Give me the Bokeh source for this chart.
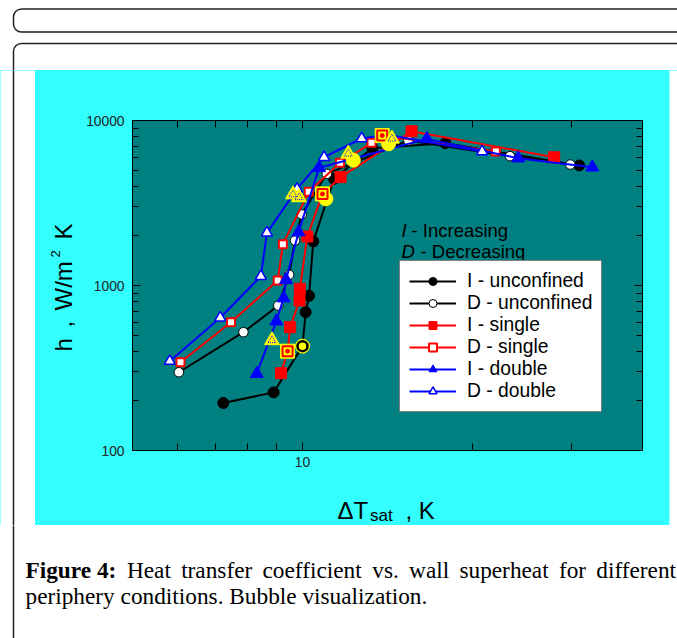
import math
from bokeh.plotting import figure
from bokeh.layouts import row, column
from bokeh.models import (Range1d, LogAxis, FixedTicker, BoxAnnotation, Label,
                          Legend, LegendItem, PrintfTickFormatter, CustomJSTickFormatter)
from bokeh.embed import file_html
from bokeh.resources import INLINE

# ---------------- data ----------------
i_unconf_x = [7.24, 8.89, 10.0, 10.13, 10.27, 10.45, 11.37, 13.3, 17.9, 30.9]
i_unconf_y = [194, 225, 429, 689, 866, 1850, 4430, 6800, 7290, 5340]

d_unconf_x = [6.04, 7.86, 9.06, 9.47, 9.70, 9.97, 11.04, 15.4, 23.3, 29.8]
d_unconf_y = [298, 521, 756, 1161, 1873, 2694, 4750, 7560, 6080, 5410]

i_single_x = [9.16, 9.41, 9.51, 9.88, 9.89, 10.2, 10.85, 11.68, 15.6, 27.9]
i_single_y = [294, 400, 559, 811, 955, 1982, 3590, 4540, 8600, 5990]

d_single_x = [6.08, 7.47, 9.04, 9.23, 10.26, 11.65, 13.25, 13.84, 22.0]
d_single_y = [343, 599, 1072, 1780, 3700, 5540, 7325, 8110, 6490]

i_double_x = [8.30, 8.99, 9.26, 9.35, 9.84, 10.7, 16.6, 24.1, 32.6]
i_double_y = [292, 608, 838, 1082, 2105, 5166, 7740, 5910, 5210]

d_double_x = [5.82, 7.15, 8.44, 8.65, 9.78, 10.92, 12.73, 14.1, 20.8]
d_double_y = [348, 637, 1138, 2086, 3850, 5990, 7780, 8190, 6490]

# bubble-visualisation highlights
bub_circle_x = [10.0, 11.0, 12.3, 14.2]
bub_circle_y = [429, 3350, 5750, 7220]
bub_square_x = [9.41, 10.85, 13.84]
bub_square_y = [400, 3590, 8110]
bub_tri_x = [8.83, 9.62, 9.86, 12.05, 14.4]
bub_tri_y = [465, 3560, 3420, 6280, 7750]

x_major = [10]
x_minor = [6, 7, 8, 9, 20, 30]
y_major = [100, 1000, 10000]
y_minor = [200, 300, 400, 500, 600, 700, 800, 900,
           2000, 3000, 4000, 5000, 6000, 7000, 8000, 9000]

legend_labels = ["I - unconfined", "D - unconfined", "I - single",
                 "D - single", "I - double", "D - double"]

x_title = ["\u0394T", "sat", ", K"]
y_title = ["h", ",", "W/m", "2", "K"]
note_lines = [("I", "- Increasing"), ("D", "- Decreasing")]
caption_bold = "Figure 4:"
caption_line1 = ["Heat", "transfer", "coefficient", "vs.", "wall",
                 "superheat", "for", "different"]
caption_line2 = "periphery conditions. Bubble visualization."

# ---------------- layout constants (page pixels) ----------------
W, H = 677, 638
CY0, CY1 = 70, 525          # cyan panel top/bottom
CX0, CX1 = 35, 669          # cyan panel left/right
YT_W = 45                   # width of y-title strip
PX0 = CX0 + YT_W            # left of plot figure
XT_H = 45                   # height of x-title strip
FL, FR, FT, FB = 132, 642, 120, 450   # frame edges
CYAN = "#33ffff"
TEAL = "#008080"
SANS = "Liberation Sans"
SERIF = "Liberation Serif"
EDGE = "#222222"


def blank(w, h, bg="white"):
    f = figure(width=w, height=h, x_range=Range1d(0, w), y_range=Range1d(0, h),
               x_axis_location=None, y_axis_location=None,
               output_backend="svg", toolbar_location=None, frame_align=False)
    f.min_border_left = f.min_border_right = 0
    f.min_border_top = f.min_border_bottom = 0
    f.outline_line_color = None
    f.background_fill_color = bg
    f.border_fill_color = bg
    f.xgrid.visible = False
    f.ygrid.visible = False
    return f


def lab(f, h, x, y, text, size, font=SANS, style="normal", angle=0.0, color="black"):
    # x, y are local pixel coordinates with y measured from the top
    f.add_layout(Label(x=x, y=h - y, text=text, text_font=font,
                       text_font_size=size, text_font_style=style,
                       text_color=color, text_align="left",
                       text_baseline="alphabetic", angle=angle))


# ---- top strip: two rounded page boxes ----
top_h = CY0
top_fig = blank(W, top_h)
top_fig.add_layout(BoxAnnotation(left=13, right=760, top=top_h - 8.5, bottom=top_h - 31.5,
                                 fill_color="white", fill_alpha=1, line_color=EDGE,
                                 line_width=1.5, line_alpha=1, border_radius=8))
top_fig.add_layout(BoxAnnotation(left=13, right=760, top=top_h - 43, bottom=-200,
                                 fill_color="white", fill_alpha=1, line_color=EDGE,
                                 line_width=1.5, line_alpha=1, border_radius=8))

mid_h = CY1 - CY0

# ---- left white strip with the box edge ----
left_fig = blank(CX0, mid_h)
left_fig.segment(x0=[13], y0=[-10], x1=[13], y1=[mid_h + 10],
                 line_color=EDGE, line_width=1.5)

# ---- right white strip ----
right_fig = blank(W - CX1, mid_h)

# ---- y-title strip ----
yt_fig = blank(YT_W, mid_h, CYAN)
A = math.pi / 2
bx = 63 - CX0
lab(yt_fig, mid_h, bx, 351 - CY0, y_title[0], "24px", angle=A)
lab(yt_fig, mid_h, bx, 327 - CY0, y_title[1], "24px", angle=A)
lab(yt_fig, mid_h, bx, 310 - CY0, y_title[2], "24px", angle=A)
lab(yt_fig, mid_h, 55 - CX0, 257 - CY0, y_title[3], "13px", angle=A)
lab(yt_fig, mid_h, bx, 239 - CY0, y_title[4], "24px", angle=A)

# ---- main plot ----
PW = CX1 - PX0
PH = mid_h - XT_H
p = figure(width=PW, height=PH, x_axis_type="log", y_axis_type="log",
           x_range=Range1d(5, 40), y_range=Range1d(100, 10000),
           output_backend="svg", toolbar_location=None, frame_align=False,
           min_border_left=FL - PX0, min_border_right=CX1 - FR,
           min_border_top=FT - CY0, min_border_bottom=(CY0 + PH) - FB)
p.border_fill_color = CYAN
p.background_fill_color = TEAL
p.outline_line_color = "black"
p.outline_line_width = 1
p.xgrid.visible = False
p.ygrid.visible = False

bot_ax = p.below[0]
left_ax = p.left[0]
top_ax = LogAxis()
right_ax = LogAxis()
p.add_layout(top_ax, "above")
p.add_layout(right_ax, "right")

for ax in [bot_ax, top_ax]:
    ax.ticker = FixedTicker(ticks=x_major, minor_ticks=x_minor)
for ax in [left_ax, right_ax]:
    ax.ticker = FixedTicker(ticks=y_major, minor_ticks=y_minor)

for ax in [bot_ax, left_ax, top_ax, right_ax]:
    ax.axis_line_color = "black"
    ax.major_tick_line_color = "black"
    ax.minor_tick_line_color = "black"
    ax.major_tick_in = 8
    ax.major_tick_out = 0
    ax.minor_tick_in = 6
    ax.minor_tick_out = 0
    ax.major_label_text_font = SANS
    ax.major_label_text_font_size = "13.8px"
    ax.major_label_text_color = "#222222"

bot_ax.formatter = PrintfTickFormatter(format="%d")
left_ax.formatter = PrintfTickFormatter(format="%d")
bot_ax.minor_tick_in = 7
top_ax.minor_tick_in = 7
bot_ax.major_label_standoff = 6
left_ax.major_label_standoff = 8
for ax in [top_ax, right_ax]:
    ax.formatter = CustomJSTickFormatter(code="return ''")
    ax.major_label_text_font_size = "1px"
    ax.major_label_standoff = 0

series = [
    (i_unconf_x, i_unconf_y, "black", "circle", 11, "black", 1),
    (d_unconf_x, d_unconf_y, "black", "circle", 9.5, "white", 1),
    (i_single_x, i_single_y, "red", "square", 11, "red", 1),
    (d_single_x, d_single_y, "red", "square", 8, "white", 2),
    (i_double_x, i_double_y, "blue", "triangle", 13, "blue", 1),
    (d_double_x, d_double_y, "blue", "triangle", 11, "white", 1.5),
]
items = []
for (xs, ys, col, mk, sz, fill, lw), lb in zip(series, legend_labels):
    ln = p.line(xs, ys, line_color=col, line_width=2)
    sc = p.scatter(xs, ys, marker=mk, size=sz, fill_color=fill,
                   line_color=col, line_width=lw)
    items.append(LegendItem(label=lb, renderers=[ln, sc]))

# bubble highlights
p.scatter(bub_circle_x, bub_circle_y, marker="circle", size=14,
          fill_color="yellow", line_color="yellow")
p.scatter(bub_circle_x[:1], bub_circle_y[:1], marker="circle", size=10,
          fill_color="yellow", line_color="black", line_width=2.5)
p.scatter(bub_square_x, bub_square_y, marker="square", size=14,
          fill_color="yellow", line_color="yellow")
p.scatter(bub_square_x, bub_square_y, marker="square", size=10,
          fill_color="yellow", line_color="red", line_width=2)
p.scatter(bub_square_x, bub_square_y, marker="circle", size=4,
          fill_color="red", line_color="red")
p.scatter(bub_tri_x, bub_tri_y, marker="triangle", size=15,
          fill_color="yellow", line_color="yellow")
p.scatter(bub_tri_x, bub_tri_y, marker="triangle", size=8,
          fill_color=None, line_color="blue", line_width=1, line_dash="1 1")

legend = Legend(items=items, location=(399 - FL, FB - 412), margin=0,
                padding=9, spacing=0, glyph_width=47, glyph_height=20,
                label_height=20, label_standoff=11,
                label_text_font=SANS, label_text_font_size="19.3px",
                label_text_color="black",
                border_line_color="black", border_line_width=1,
                background_fill_color="white", background_fill_alpha=1)
p.add_layout(legend)


def plab(x, y, text, size, style="normal"):
    p.add_layout(Label(x=x - PX0, y=y - CY0, x_units="canvas", y_units="canvas",
                       text=text, text_font=SANS, text_font_size=size,
                       text_font_style=style, text_color="black",
                       text_align="left", text_baseline="alphabetic"))


plab(401, 230, note_lines[0][0], "18.5px", style="italic")
plab(411, 230, note_lines[0][1], "18.5px")
plab(401, 251, note_lines[1][0], "18.5px", style="italic")
plab(420, 251, note_lines[1][1], "18.5px")

# ---- x-title strip ----
xt_fig = blank(PW, XT_H, CYAN)
XY0 = CY0 + PH
lab(xt_fig, XT_H, 337 - PX0, 510 - XY0, x_title[0], "24px")
lab(xt_fig, XT_H, 369.5 - PX0, 514.5 - XY0, x_title[1], "17px")
lab(xt_fig, XT_H, 405 - PX0, 510 - XY0, x_title[2], "24px")

# ---- bottom strip: caption ----
bot_h = H - CY1
bot_fig = blank(W, bot_h)
bot_fig.segment(x0=[13], y0=[-10], x1=[13], y1=[bot_h + 10],
                line_color=EDGE, line_width=1.5)

REG = {" ": 250, "H": 722, "e": 444, "a": 444, "t": 278, "r": 333, "n": 500,
       "s": 389, "f": 333, "c": 444, "o": 500, "i": 278, "v": 500, ".": 250,
       "w": 722, "l": 278, "u": 500, "p": 500, "h": 500, "d": 500}
BOLD = {"F": 611, "i": 278, "g": 500, "u": 556, "r": 444, "e": 444, " ": 250,
        "4": 500, ":": 333}
CS = 23.3


def tw(s, table):
    return sum(table.get(c, 500) for c in s) / 1000.0 * CS


x0, x1 = 25.0, 676.0
widths = [tw(caption_bold, BOLD)] + [tw(w, REG) for w in caption_line1]
gap = (x1 - x0 - sum(widths)) / (len(widths) - 1)
fs = "%.1fpx" % CS
lab(bot_fig, bot_h, x0, 569 - CY1, caption_bold, fs, font=SERIF, style="bold")
cx = x0 + widths[0] + gap
for w, wd in zip(caption_line1, widths[1:]):
    lab(bot_fig, bot_h, cx, 569 - CY1, w, fs, font=SERIF)
    cx += wd + gap
lab(bot_fig, bot_h, x0, 595 - CY1, caption_line2, fs, font=SERIF)

bg = {"background-color": CYAN}
plot_col = column(p, xt_fig, spacing=0, styles=bg)
mid = row(left_fig, yt_fig, plot_col, right_fig, spacing=0, styles=bg)
page = column(top_fig, mid, bot_fig, spacing=0)

open("out.html", "w").write(file_html(page, INLINE))
